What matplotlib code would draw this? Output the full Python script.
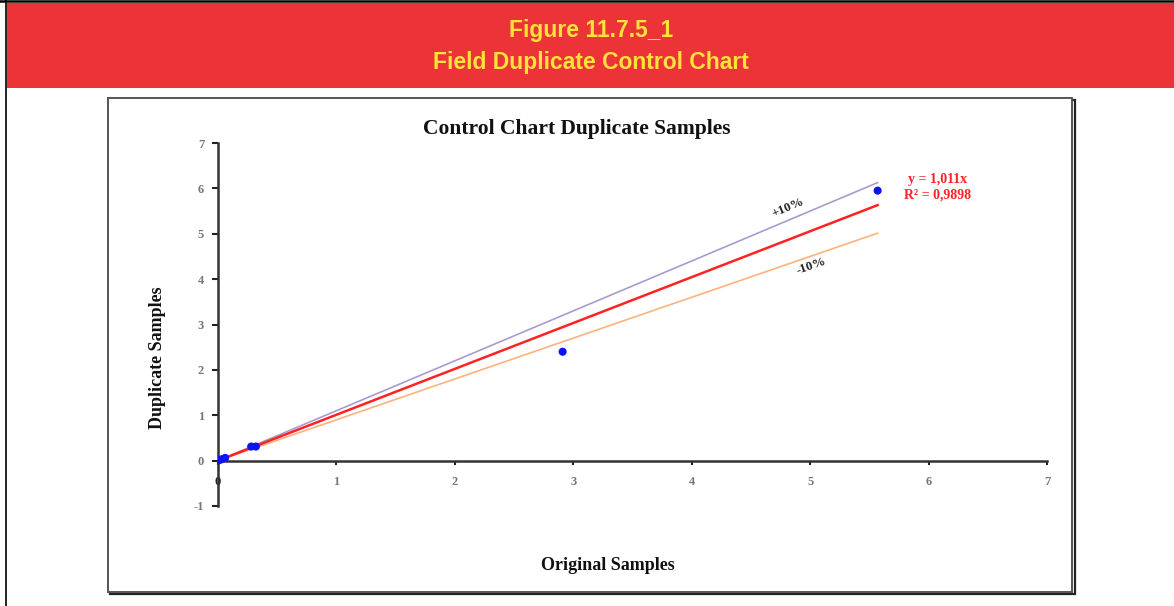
import matplotlib
matplotlib.use("Agg")
import matplotlib.pyplot as plt
from matplotlib.patches import Rectangle
from matplotlib.lines import Line2D
import numpy as np

# Field duplicate pairs (original, duplicate)
original = [0.01, 0.03, 0.06, 0.28, 0.32, 2.91, 5.57]
duplicate = [0.01, 0.03, 0.06, 0.31, 0.31, 2.40, 5.95]

slope = 1.011
r_squared = "0,9898"
upper_factor = 1.10
lower_factor = 0.90

x_ticks = [0, 1, 2, 3, 4, 5, 6, 7]
y_ticks = [-1, 0, 1, 2, 3, 4, 5, 6, 7]

W, H = 1174, 606
fig = plt.figure(figsize=(W / 100, H / 100), dpi=100)
fig.patch.set_facecolor("white")


def fx(px):
    return px / W


def fy(py):
    return 1 - py / H


# Page frame and red header banner
fig.add_artist(Line2D([fx(0), fx(W)], [fy(1), fy(1)], color="black", lw=1.8))
fig.add_artist(Line2D([fx(5.5), fx(5.5)], [fy(0), fy(H)], color="black", lw=1.2))
fig.add_artist(Rectangle((fx(7), fy(88)), fx(W) - fx(7), fy(3) - fy(88),
                         facecolor="#EC3338", edgecolor="none"))
fig.text(fx(591), fy(30), "Figure 11.7.5_1", ha="center", va="center",
         color="#FFE23A", fontsize=16.5, fontweight="bold", family="Liberation Sans")
fig.text(fx(591), fy(62), "Field Duplicate Control Chart", ha="center", va="center",
         color="#FFE23A", fontsize=16.5, fontweight="bold", family="Liberation Sans")

# Chart area frame with a small shadow on the right and bottom
fig.add_artist(Rectangle((fx(110), fy(594)), fx(1075) - fx(110), fy(100) - fy(594),
                         facecolor="none", edgecolor="#222222", lw=1.6))
fig.add_artist(Rectangle((fx(108), fy(592)), fx(1072) - fx(108), fy(98) - fy(592),
                         facecolor="white", edgecolor="#555555", lw=1.4))

# Plot axes: x from 0 to 7, y from -1 to 7
ax = fig.add_axes([fx(218), fy(506), fx(1047) - fx(218), fy(143) - fy(506)])
ax.set_zorder(5)
ax.set_facecolor("none")
ax.set_xlim(0, 7)
ax.set_ylim(-1, 7)
ax.spines["top"].set_visible(False)
ax.spines["right"].set_visible(False)
ax.spines["bottom"].set_position(("data", 0))
for s in ("left", "bottom"):
    ax.spines[s].set_color("#333333")
    ax.spines[s].set_linewidth(1.8)

ax.set_xticks(x_ticks)
ax.set_yticks(y_ticks)
ax.set_xticklabels([str(v) for v in x_ticks])
ax.set_yticklabels([str(v) for v in y_ticks])
ax.tick_params(axis="x", direction="out", length=3, width=1.5, color="#222222",
               pad=8, labelsize=9, labelcolor="#777777")
ax.tick_params(axis="y", direction="out", length=4, width=1.5, color="#222222",
               pad=6, labelsize=9, labelcolor="#777777")
for lab in ax.get_xticklabels() + ax.get_yticklabels():
    lab.set_family("Liberation Serif")
    lab.set_fontweight("bold")
ax.get_xticklabels()[0].set_color("#222222")

# Control lines and fitted trend, spanning the data range
xmax = max(original)
xl = np.array([0, xmax])
ax.plot(xl, upper_factor * xl, color="#A99BD0", lw=1.2, zorder=2)
ax.plot(xl, lower_factor * xl, color="#FFB27C", lw=1.2, zorder=2)
ax.plot(xl, slope * xl, color="#FF2222", lw=1.8, zorder=3)

ax.scatter(original, duplicate, s=34, color="#0A14F5", zorder=4, edgecolors="none")

ax.text(4.83, upper_factor * 4.83 + 0.14, "+10%", rotation=22.5, ha="center", va="bottom",
        fontsize=9.5, fontweight="bold", family="Liberation Serif", color="#222222",
        rotation_mode="anchor")
ax.text(4.99, lower_factor * 4.99 - 0.08, "-10%", rotation=19, ha="center", va="top",
        fontsize=9.5, fontweight="bold", family="Liberation Serif", color="#222222",
        rotation_mode="anchor")

ax.text(6.08, 6.19, "y = 1,011x", ha="center", va="center", color="#FF2222",
        fontsize=10, fontweight="bold", family="Liberation Serif")
ax.text(6.08, 5.86, "R² = " + r_squared, ha="center", va="center", color="#FF2222",
        fontsize=10, fontweight="bold", family="Liberation Serif")

# Titles
fig.text(fx(577), fy(129), "Control Chart Duplicate Samples", ha="center", va="center",
         fontsize=15.5, fontweight="bold", family="Liberation Serif", color="#111111")
fig.text(fx(608), fy(565), "Original Samples", ha="center", va="center",
         fontsize=13, fontweight="bold", family="Liberation Serif", color="#111111")
fig.text(fx(157), fy(358), "Duplicate Samples", ha="center", va="center", rotation=90,
         fontsize=13, fontweight="bold", family="Liberation Serif", color="#111111")

fig.savefig("out.png", dpi=100)
